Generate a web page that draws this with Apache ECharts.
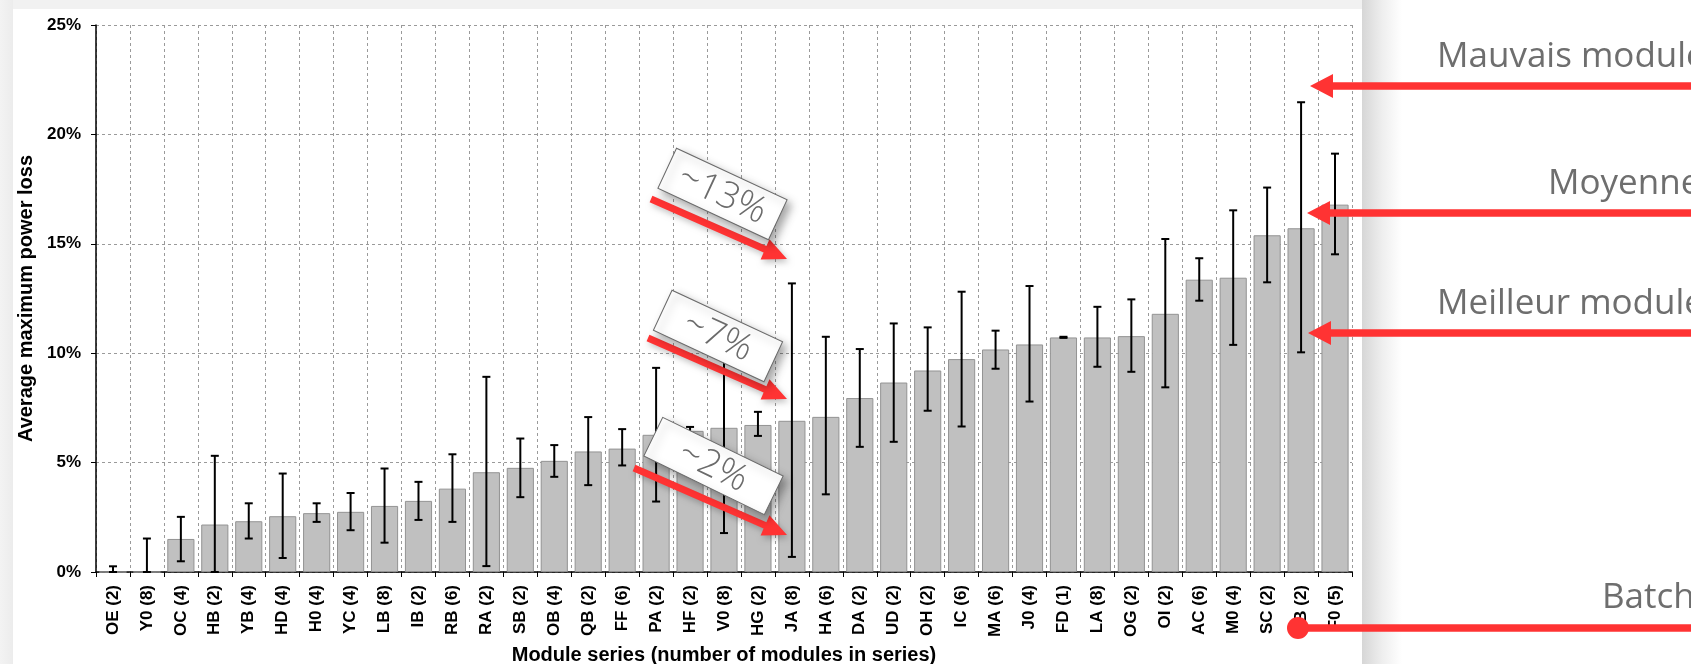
<!DOCTYPE html>
<html>
<head>
<meta charset="utf-8">
<title>Average maximum power loss</title>
<script src="https://cdn.jsdelivr.net/npm/echarts@6/dist/echarts.min.js"></script>
<style>
  html, body { margin: 0; padding: 0; background: #fff; }
  #chart { width: 1691px; height: 664px; }
</style>
</head>
<body>
<div id="chart"></div>
<script>
// module series, sorted by average loss
var categories = ['OE (2)', 'Y0 (8)', 'OC (4)', 'HB (2)', 'YB (4)', 'HD (4)', 'H0 (4)', 'YC (4)', 'LB (8)', 'IB (2)',
    'RB (6)', 'RA (2)', 'SB (2)', 'OB (4)', 'QB (2)', 'FF (6)', 'PA (2)', 'HF (2)', 'V0 (8)', 'HG (2)',
    'JA (8)', 'HA (6)', 'DA (2)', 'UD (2)', 'OH (2)', 'IC (6)', 'MA (6)', 'J0 (4)', 'FD (1)', 'LA (8)',
    'OG (2)', 'OI (2)', 'AC (6)', 'M0 (4)', 'SC (2)', 'EB (2)', 'F0 (5)'];

// average loss (bar), in %
var meanLoss = [0, 0, 1.51, 2.17, 2.32, 2.55, 2.69, 2.75, 3.02, 3.25,
    3.81, 4.56, 4.76, 5.08, 5.51, 5.64, 6.27, 6.45, 6.59, 6.72,
    6.91, 7.09, 7.95, 8.66, 9.21, 9.73, 10.17, 10.40, 10.72, 10.72,
    10.78, 11.80, 13.36, 13.45, 15.39, 15.71, 16.79];

// worst module (top of error bar), in %
var worstLoss = [0.26, 1.53, 2.52, 5.31, 3.14, 4.50, 3.14, 3.61, 4.73, 4.12,
    5.38, 8.92, 6.10, 5.80, 7.08, 6.53, 9.33, 6.63, 10.30, 7.32,
    13.19, 10.75, 10.19, 11.36, 11.18, 12.81, 11.03, 13.07, 10.75, 12.12,
    12.46, 15.22, 14.34, 16.53, 17.57, 21.47, 19.12];

// best module (bottom of error bar), in %
var bestLoss = [0, 0, 0.49, 0, 1.53, 0.64, 2.29, 1.91, 1.34, 2.38,
    2.29, 0.27, 3.42, 4.35, 3.97, 4.87, 3.22, 6.25, 1.78, 6.22,
    0.69, 3.55, 5.72, 5.95, 7.37, 6.65, 9.29, 7.79, 10.70, 9.38,
    9.15, 8.44, 12.40, 10.38, 13.24, 10.04, 14.52];

var yTicks = [0, 5, 10, 15, 20, 25];

var RED = '#ff3333';
var SLIDE_FONT = '"Open Sans", "Noto Sans", sans-serif';
var CHART_FONT = '"Liberation Sans", Arial, sans-serif';

var chart = echarts.init(document.getElementById('chart'));

var errorData = categories.map(function (c, i) {
    return [i, bestLoss[i], worstLoss[i]];
});

// red arrow from (x1,y1) to (x2,y2)
function arrow(x1, y1, x2, y2, w, headLen, headW) {
    var dx = x2 - x1, dy = y2 - y1;
    var len = Math.sqrt(dx * dx + dy * dy);
    var a = Math.atan2(dy, dx);
    var h = w / 2;
    return {
        type: 'polygon',
        x: x1, y: y1,
        rotation: -a,
        z: 110,
        shape: {
            points: [[0, -h], [len - headLen, -h], [len - headLen, -headW], [len, 0],
                [len - headLen, headW], [len - headLen, h], [0, h]]
        },
        style: {
            fill: RED,
            shadowBlur: 6,
            shadowColor: 'rgba(0,0,0,0.25)',
            shadowOffsetX: 2,
            shadowOffsetY: 3
        }
    };
}

// tilted label box
function tag(cx, cy, w, h, deg, text) {
    var r = -deg * Math.PI / 180;
    return {
        type: 'group',
        x: cx, y: cy,
        rotation: r,
        z: 120,
        children: [
            {
                type: 'rect',
                z: 120,
                shape: { x: -w / 2, y: -h / 2, width: w, height: h },
                style: {
                    fill: '#fff',
                    stroke: '#6a6a6a',
                    lineWidth: 1,
                    shadowBlur: 8,
                    shadowColor: 'rgba(0,0,0,0.35)',
                    shadowOffsetX: 4,
                    shadowOffsetY: 5
                }
            },
            {
                type: 'text',
                z: 121,
                style: {
                    text: text,
                    x: 0, y: 1,
                    align: 'center',
                    verticalAlign: 'middle',
                    font: '300 37px ' + SLIDE_FONT,
                    fill: '#6b6b6b'
                }
            }
        ]
    };
}

function sideText(x, y, text) {
    return {
        type: 'text',
        z: 110,
        style: {
            text: text,
            x: x, y: y,
            align: 'left',
            verticalAlign: 'middle',
            font: '35px ' + SLIDE_FONT,
            fill: '#6e6e6e'
        }
    };
}

function leftArrow(xTip, y) {
    return {
        type: 'polygon',
        z: 110,
        shape: {
            points: [[xTip, y], [xTip + 23, y - 12], [xTip + 23, y - 3.7], [1700, y - 3.7],
                [1700, y + 3.7], [xTip + 23, y + 3.7], [xTip + 23, y + 12]]
        },
        style: { fill: RED }
    };
}

var option = {
    animation: false,
    backgroundColor: '#fff',
    grid: {
        left: 96,
        right: 339,
        top: 25,
        bottom: 92,
        containLabel: false,
        outerBoundsMode: 'none'
    },
    xAxis: {
        type: 'category',
        data: categories,
        name: 'Module series (number of modules in series)',
        nameLocation: 'middle',
        nameGap: 73,
        nameTextStyle: {
            fontFamily: CHART_FONT,
            fontWeight: 'bold',
            fontSize: 20,
            color: '#000',
            verticalAlign: 'top'
        },
        axisLine: { lineStyle: { color: '#000', width: 1.5 } },
        axisTick: { show: true, alignWithLabel: false, length: 5, lineStyle: { color: '#000' } },
        axisLabel: {
            rotate: 90,
            interval: 0,
            margin: 13,
            fontFamily: CHART_FONT,
            fontWeight: 'bold',
            fontSize: 17,
            color: '#000'
        },
        splitLine: {
            show: true,
            interval: 0,
            lineStyle: { color: '#9a9a9a', type: [3, 3], width: 1 }
        }
    },
    yAxis: {
        type: 'value',
        min: yTicks[0],
        max: yTicks[yTicks.length - 1],
        interval: 5,
        name: 'Average maximum power loss',
        nameLocation: 'middle',
        nameGap: 60,
        nameTextStyle: {
            fontFamily: CHART_FONT,
            fontWeight: 'bold',
            fontSize: 20,
            color: '#000'
        },
        axisLine: { show: true, lineStyle: { color: '#000', width: 1.5 } },
        axisTick: { show: true, length: 5, lineStyle: { color: '#000' } },
        axisLabel: {
            formatter: '{value}%',
            margin: 15,
            fontFamily: CHART_FONT,
            fontWeight: 'bold',
            fontSize: 17,
            color: '#000'
        },
        splitLine: {
            show: true,
            lineStyle: { color: '#9a9a9a', type: [3, 3], width: 1 }
        }
    },
    series: [
        {
            name: 'Average',
            type: 'bar',
            data: meanLoss,
            barWidth: '80%',
            itemStyle: {
                color: '#c0c0c0',
                borderColor: '#939393',
                borderWidth: 1
            },
            z: 2
        },
        {
            name: 'Range',
            type: 'custom',
            data: errorData,
            z: 3,
            renderItem: function (params, api) {
                var i = api.value(0);
                var lo = api.coord([i, api.value(1)]);
                var hi = api.coord([i, api.value(2)]);
                var half = 4;
                var st = { stroke: '#000', lineWidth: 2 };
                return {
                    type: 'group',
                    children: [
                        { type: 'line', shape: { x1: hi[0], y1: hi[1], x2: lo[0], y2: lo[1] }, style: st },
                        { type: 'line', shape: { x1: hi[0] - half, y1: hi[1], x2: hi[0] + half, y2: hi[1] }, style: st },
                        { type: 'line', shape: { x1: lo[0] - half, y1: lo[1], x2: lo[0] + half, y2: lo[1] }, style: st }
                    ]
                };
            }
        }
    ],
    graphic: [
        // slide background + panel shadow
        { type: 'rect', z: -10, silent: true, shape: { x: 0, y: 0, width: 1400, height: 9 }, style: { fill: '#f1f1f1' } },
        {
            type: 'rect', z: -10, silent: true, shape: { x: 0, y: 0, width: 13, height: 664 },
            style: { fill: new echarts.graphic.LinearGradient(0, 0, 1, 0, [
                { offset: 0, color: '#f3f3f3' }, { offset: 1, color: '#ececec' }]) }
        },
        {
            type: 'rect', z: -10, silent: true, shape: { x: 1362, y: 0, width: 40, height: 664 },
            style: { fill: new echarts.graphic.LinearGradient(0, 0, 1, 0, [
                { offset: 0, color: '#d6d6d6' }, { offset: 0.5, color: '#eeeeee' }, { offset: 1, color: '#ffffff' }]) }
        },

        // arrows + tags pointing at JA (8)
        arrow(651, 199, 787, 259, 7, 24, 11),
        tag(722.5, 194, 122, 44, 25, '~13%'),
        arrow(648, 338, 787, 399, 7, 24, 11),
        tag(718, 336, 122, 44, 25, '~7%'),
        arrow(634, 468, 787, 535, 7, 24, 11),
        tag(713.5, 466, 134, 43, 26, '~2%'),

        // legend on the right side of the slide
        sideText(1437, 57, 'Mauvais module'),
        leftArrow(1310, 86),
        sideText(1548, 184, 'Moyenne'),
        leftArrow(1307, 213),
        sideText(1437, 304, 'Meilleur module'),
        leftArrow(1308, 333),
        sideText(1602, 598, 'Batch'),
        { type: 'rect', z: 110, shape: { x: 1298, y: 624.3, width: 420, height: 7.4 }, style: { fill: RED } },
        { type: 'circle', z: 111, shape: { cx: 1298, cy: 628, r: 11 }, style: { fill: RED } }
    ]
};

chart.setOption(option);
</script>
</body>
</html>
